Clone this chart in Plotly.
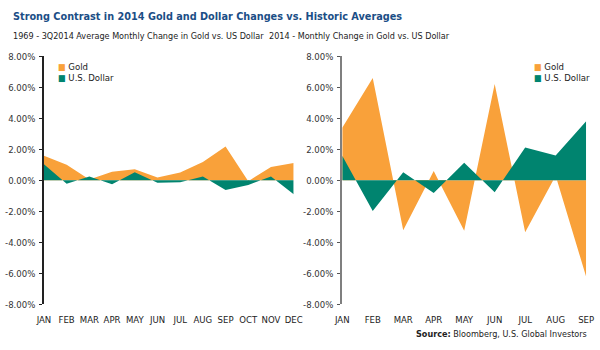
import plotly.graph_objects as go

months_hist = ['JAN', 'FEB', 'MAR', 'APR', 'MAY', 'JUN', 'JUL', 'AUG', 'SEP', 'OCT', 'NOV', 'DEC']
gold_hist = [1.58, 1.0, 0.05, 0.56, 0.72, 0.18, 0.5, 1.18, 2.18, -0.05, 0.86, 1.12]
usd_hist = [1.04, -0.22, 0.25, -0.25, 0.52, -0.15, -0.12, 0.25, -0.63, -0.3, 0.25, -0.9]

months_2014 = ['JAN', 'FEB', 'MAR', 'APR', 'MAY', 'JUN', 'JUL', 'AUG', 'SEP']
gold_2014 = [3.4, 6.6, -3.22, 0.6, -3.25, 6.22, -3.35, 0.3, -6.22]
usd_2014 = [1.58, -1.98, 0.52, -0.82, 1.14, -0.76, 2.12, 1.6, 3.82]

series_names = ['Gold', 'U.S. Dollar']

y_ticks = [-8, -6, -4, -2, 0, 2, 4, 6, 8]
y_ticktext = ['%.2f%%' % v for v in y_ticks]

GOLD = '#F9A13A'
USD = '#00846F'
FONT = 'Liberation Sans Narrow, DejaVu Sans Condensed, Arial Narrow, sans-serif'

fig = go.Figure()

for xa, ya, months, gold, usd in [('x', 'y', months_hist, gold_hist, usd_hist),
                                  ('x2', 'y2', months_2014, gold_2014, usd_2014)]:
    fig.add_trace(go.Scatter(x=months, y=gold, fill='tozeroy', mode='lines', name=series_names[0],
                             line=dict(width=0, color=GOLD), fillcolor=GOLD,
                             xaxis=xa, yaxis=ya, showlegend=False))
    fig.add_trace(go.Scatter(x=months, y=usd, fill='tozeroy', mode='lines', name=series_names[1],
                             line=dict(width=0, color=USD), fillcolor=USD,
                             xaxis=xa, yaxis=ya, showlegend=False))

ydom = [0.12, 0.8514]
zero_pos = (ydom[0] + ydom[1]) / 2
xdom1 = [37 / 600, 294 / 600]
xdom2 = [344 / 600, 595 / 600]

tickfont = dict(family=FONT, size=9.5, color='#333333')

common_x = dict(type='category', showgrid=False, zeroline=False, showline=False,
                ticks='', tickfont=dict(family=FONT, size=9.5, color='#222222'),
                ticklabelstandoff=8)


def zero_axis(over, months):
    return dict(overlaying=over, anchor='free', position=zero_pos, type='category',
                range=[0, len(months) - 1], showticklabels=False, ticks='outside',
                ticklen=4, tickwidth=1, tickcolor='#333333', showline=True,
                linecolor='#333333', linewidth=1.5, showgrid=False, zeroline=False,
                tickvals=months, layer='above traces')


def legend_annots(x0):
    out = []
    for i, (name, col) in enumerate(zip(series_names, [GOLD, USD])):
        out.append(dict(
            text="<span style='color:%s;font-size:9px'>■</span> %s" % (col, name),
            x=x0 / 600, y=1 - (62 + 12 * i) / 350, xref='paper', yref='paper',
            xanchor='left', yanchor='middle', showarrow=False,
            font=dict(family=FONT, size=9.5, color='#222222')))
    return out


fig.update_layout(
    width=600, height=350,
    margin=dict(l=0, r=0, t=0, b=0),
    paper_bgcolor='white', plot_bgcolor='white',
    showlegend=False,
    xaxis=dict(domain=xdom1, range=[0, len(months_hist) - 1], anchor='y', **common_x),
    xaxis2=dict(domain=xdom2, range=[0, len(months_2014) - 1], anchor='y2', **common_x),
    xaxis3=zero_axis('x', months_hist),
    xaxis4=zero_axis('x2', months_2014),
    yaxis=dict(domain=ydom, range=[-8, 8], anchor='x', tickvals=y_ticks,
               ticktext=y_ticktext, showgrid=False, zeroline=False, showline=True,
               linecolor='#222222', linewidth=1.5, ticks='outside', ticklen=3,
               tickcolor='#222222', tickfont=tickfont, ticklabelstandoff=2),
    yaxis2=dict(domain=ydom, range=[-8, 8], anchor='x2', tickvals=y_ticks,
                ticktext=y_ticktext, showgrid=False, zeroline=False, showline=True,
                linecolor='#7f7f7f', linewidth=2, ticks='outside', ticklen=3,
                tickcolor='#555555', tickfont=tickfont, ticklabelstandoff=2),
    annotations=legend_annots(49) + legend_annots(539) + [
        dict(text='<b>Strong Contrast in 2014 Gold and Dollar Changes vs. Historic Averages</b>',
             x=3 / 600, y=1 - 11 / 350, xref='paper', yref='paper', xanchor='left',
             yanchor='middle', showarrow=False,
             font=dict(family=FONT, size=10.8, color='#1b4e86')),
        dict(text='1969 - 3Q2014 Average Monthly Change in Gold vs. US Dollar',
             x=3 / 600, y=1 - 31 / 350, xref='paper', yref='paper', xanchor='left',
             yanchor='middle', showarrow=False,
             font=dict(family=FONT, size=9, color='#222222')),
        dict(text='2014 - Monthly Change in Gold vs. US Dollar',
             x=267 / 600, y=1 - 31 / 350, xref='paper', yref='paper', xanchor='left',
             yanchor='middle', showarrow=False,
             font=dict(family=FONT, size=9, color='#222222')),
        dict(text='<b>Source:</b> Bloomberg, U.S. Global Investors',
             x=598 / 600, y=1 - 339 / 350, xref='paper', yref='paper', xanchor='right',
             yanchor='middle', showarrow=False,
             font=dict(family=FONT, size=9, color='#222222')),
    ],
)

fig.write_html('out.html')
